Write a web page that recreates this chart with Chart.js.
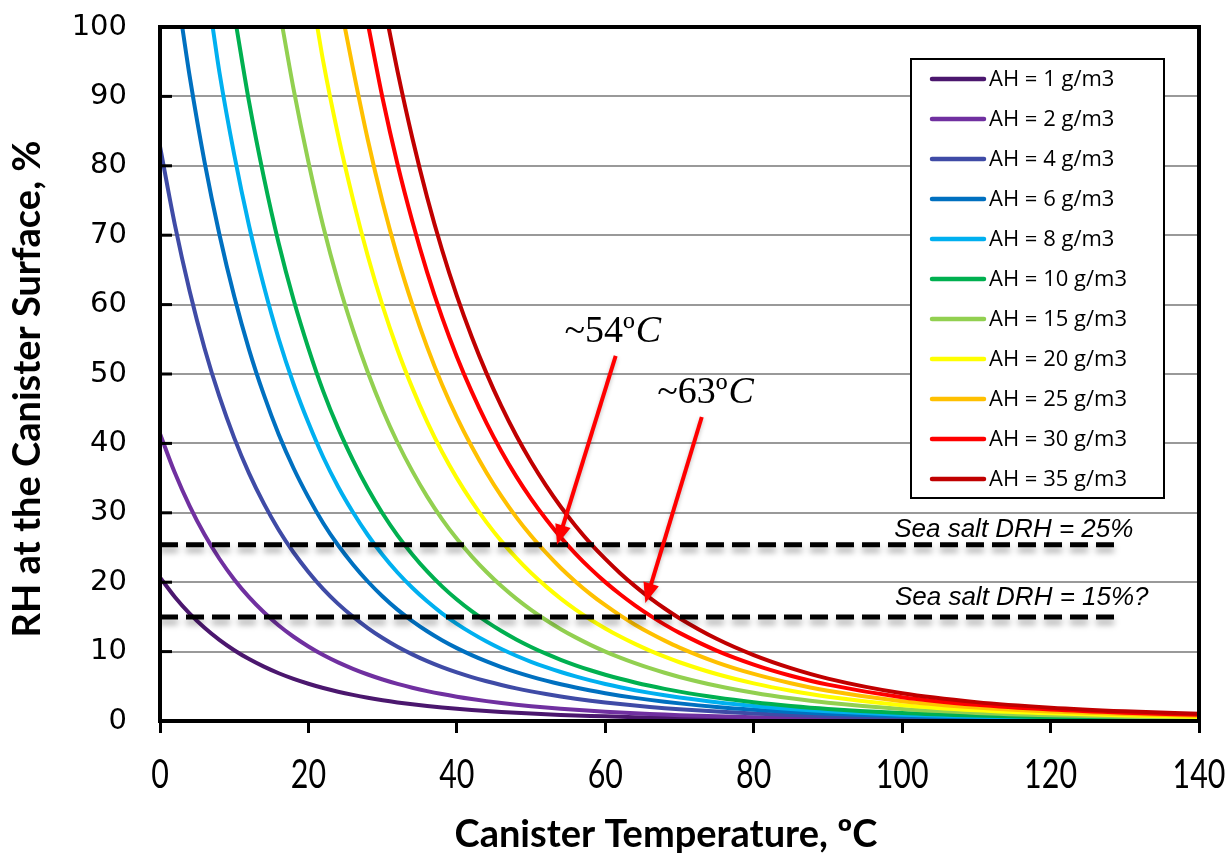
<!DOCTYPE html>
<html>
<head>
<meta charset="utf-8">
<script src="https://cdn.jsdelivr.net/npm/chart.js@4.4.1/dist/chart.umd.min.js"></script>
<style>
html,body{margin:0;padding:0;background:#fff;}
#c{display:block;}
</style>
</head>
<body>
<canvas id="c" width="1229" height="856" style="width:1229px;height:856px"></canvas>
<script>
// ---------- data ----------
const temps = [0,2,4,6,8,10,12,14,16,18,20,22,24,26,28,30,32,34,36,38,40,42,44,46,48,50,52,54,56,58,60,62,64,66,68,70,75,80,85,90,100,110,120,130,140];

const ah1  = [20.7,17.88,15.48,13.43,11.69,10.2,8.92,7.83,6.88,6.07,5.37,4.75,4.22,3.76,3.35,2.99,2.675,2.4,2.155,1.94,1.75,1.582,1.431,1.296,1.175,1.067,0.97,0.882,0.803,0.732,0.667,0.609,0.555,0.507,0.463,0.423,0.338,0.271,0.218,0.175,0.114,0.078,0.055,0.04,0.03];
const ah2  = [41.4,35.76,30.96,26.86,23.38,20.4,17.84,15.66,13.76,12.14,10.74,9.5,8.44,7.52,6.7,5.98,5.35,4.8,4.31,3.88,3.5,3.164,2.862,2.592,2.35,2.134,1.94,1.764,1.606,1.463,1.334,1.217,1.111,1.014,0.926,0.846,0.677,0.542,0.435,0.349,0.228,0.155,0.11,0.08,0.059];
const ah4  = [82.8,71.52,61.92,53.72,46.76,40.8,35.68,31.32,27.52,24.28,21.48,19.0,16.88,15.04,13.4,11.96,10.7,9.6,8.62,7.76,7.0,6.328,5.724,5.184,4.7,4.268,3.88,3.528,3.212,2.926,2.668,2.434,2.221,2.028,1.852,1.693,1.353,1.085,0.87,0.698,0.457,0.311,0.22,0.16,0.118];
const ah6  = [null,null,92.88,80.58,70.14,61.2,53.52,46.98,41.28,36.42,32.22,28.5,25.32,22.56,20.1,17.94,16.05,14.4,12.93,11.64,10.5,9.492,8.586,7.776,7.05,6.402,5.82,5.292,4.818,4.389,4.002,3.651,3.332,3.042,2.779,2.539,2.03,1.627,1.306,1.048,0.685,0.466,0.33,0.24,0.177];
const ah8  = [null,null,null,null,93.52,81.6,71.36,62.64,55.04,48.56,42.96,38.0,33.76,30.08,26.8,23.92,21.4,19.2,17.24,15.52,14.0,12.66,11.45,10.37,9.4,8.536,7.76,7.056,6.424,5.852,5.336,4.868,4.442,4.056,3.705,3.386,2.706,2.17,1.741,1.397,0.914,0.622,0.44,0.32,0.236];
const ah10 = [null,null,null,null,null,null,89.2,78.3,68.8,60.7,53.7,47.5,42.2,37.6,33.5,29.9,26.75,24.0,21.55,19.4,17.5,15.82,14.31,12.96,11.75,10.67,9.7,8.82,8.03,7.315,6.67,6.085,5.553,5.07,4.631,4.232,3.383,2.712,2.176,1.746,1.142,0.777,0.55,0.4,0.295];
const ah15 = [null,null,null,null,null,null,null,null,null,91.05,80.55,71.25,63.3,56.4,50.25,44.85,40.13,36.0,32.33,29.1,26.25,23.73,21.47,19.44,17.63,16.01,14.55,13.23,12.05,10.97,10.0,9.128,8.33,7.605,6.947,6.348,5.075,4.068,3.264,2.619,1.713,1.166,0.825,0.6,0.443];
const ah20 = [null,null,null,null,null,null,null,null,null,null,null,95.0,84.4,75.2,67.0,59.8,53.5,48.0,43.1,38.8,35.0,31.64,28.62,25.92,23.5,21.34,19.4,17.64,16.06,14.63,13.34,12.17,11.11,10.14,9.262,8.464,6.766,5.424,4.352,3.492,2.284,1.554,1.1,0.8,0.59];
const ah25 = [null,null,null,null,null,null,null,null,null,null,null,null,null,94.0,83.75,74.75,66.88,60.0,53.88,48.5,43.75,39.55,35.78,32.4,29.38,26.68,24.25,22.05,20.08,18.29,16.68,15.21,13.88,12.68,11.58,10.58,8.458,6.78,5.44,4.365,2.855,1.943,1.375,1.0,0.738];
const ah30 = [null,null,null,null,null,null,null,null,null,null,null,null,null,null,null,89.7,80.25,72.0,64.65,58.2,52.5,47.46,42.93,38.88,35.25,32.01,29.1,26.46,24.09,21.95,20.01,18.26,16.66,15.21,13.89,12.7,10.15,8.136,6.528,5.238,3.426,2.331,1.65,1.2,0.885];
const ah35 = [null,null,null,null,null,null,null,null,null,null,null,null,null,null,null,null,93.63,84.0,75.43,67.9,61.25,55.37,50.09,45.36,41.13,37.35,33.95,30.87,28.11,25.6,23.35,21.3,19.44,17.75,16.21,14.81,11.84,9.492,7.616,6.111,3.997,2.72,1.925,1.4,1.033];

// temperature at which each curve leaves the top of the plot (RH = 100 %)
const startTemps = [null,null,null,3.0,7.1,10.3,16.5,21.2,24.9,28.1,30.8];
const startRH = 100;

const seriesLabels = ['AH = 1 g/m3','AH = 2 g/m3','AH = 4 g/m3','AH = 6 g/m3','AH = 8 g/m3','AH = 10 g/m3','AH = 15 g/m3','AH = 20 g/m3','AH = 25 g/m3','AH = 30 g/m3','AH = 35 g/m3'];

// dashed DRH reference lines
const drhLevels = [25.4, 15.0];
const drhFrom = 0;
const drhTo = 128.9;
const drhLabels = ['Sea salt DRH = 25%', 'Sea salt DRH = 15%?'];

// arrow annotations (data coordinates)
const noteTexts = ['~54º', '~63º'];
const noteUnit = 'C';
const noteTextX = [54.5, 67.0];
const noteTextY = [54.6, 45.8];
const arrowFromX = [61.4, 73.0];
const arrowFromY = [52.6, 43.8];
const arrowToX = [53.5, 65.4];
const arrowToY = [25.4, 17.0];

const xTitle = 'Canister Temperature, ºC';
const yTitle = 'RH at the Canister Surface, %';

// ---------- styles ----------
const seriesColors = ['#4B176E','#7030A0','#3F4BA6','#0070C0','#00B0F0','#00B050','#92D050','#FFFF00','#FFC000','#FF0000','#C00000'];
const allSeries = [ah1, ah2, ah4, ah6, ah8, ah10, ah15, ah20, ah25, ah30, ah35];

const datasets = allSeries.map((vals, i) => {
  const pts = [];
  if (startTemps[i] !== null) pts.push({x: startTemps[i], y: startRH});
  temps.forEach((t, k) => { if (vals[k] !== null) pts.push({x: t, y: vals[k]}); });
  return {
    label: seriesLabels[i], data: pts, borderColor: seriesColors[i], backgroundColor: seriesColors[i],
    borderWidth: 4, pointRadius: 0, cubicInterpolationMode: 'monotone', fill: false,
    order: allSeries.length - i + 1, clip: 2
  };
});
drhLevels.forEach((lv, j) => {
  datasets.push({
    label: drhLabels[j], data: [{x: drhFrom, y: lv}, {x: drhTo, y: lv}],
    borderColor: '#000', borderWidth: 5, borderDash: [18, 8], borderCapStyle: 'butt',
    pointRadius: 0, fill: false, order: 0, isDrh: true
  });
});

const extras = {
  id: 'extras',
  beforeDatasetDraw(chart, args) {
    const ds = chart.data.datasets[args.index];
    if (ds.isDrh) {
      const ctx = chart.ctx;
      ctx.save();
      ctx.shadowColor = 'rgba(0,0,0,0.35)';
      ctx.shadowBlur = 6;
      ctx.shadowOffsetY = 5;
    }
  },
  afterDatasetDraw(chart, args) {
    const ds = chart.data.datasets[args.index];
    if (ds.isDrh) chart.ctx.restore();
  },
  afterDatasetsDraw(chart) {
    const {ctx, scales: {x, y}} = chart;
    ctx.save();
    // DRH labels
    ctx.fillStyle = '#000';
    ctx.font = 'italic 26px "Liberation Sans", Arial, sans-serif';
    ctx.textAlign = 'right';
    ctx.textBaseline = 'alphabetic';
    const labelRight = [131.15, 133.2];
    const labelLift = [8, 12];
    drhLabels.forEach((t, j) => {
      ctx.fillText(t, x.getPixelForValue(labelRight[j]), y.getPixelForValue(drhLevels[j]) - labelLift[j]);
    });
    // arrows
    ctx.strokeStyle = '#FF0000';
    ctx.fillStyle = '#FF0000';
    ctx.lineWidth = 4;
    ctx.shadowColor = 'rgba(0,0,0,0.25)';
    ctx.shadowBlur = 4;
    ctx.shadowOffsetY = 2;
    for (let i = 0; i < arrowFromX.length; i++) {
      const x0 = x.getPixelForValue(arrowFromX[i]), y0 = y.getPixelForValue(arrowFromY[i]);
      const x1 = x.getPixelForValue(arrowToX[i]), y1 = y.getPixelForValue(arrowToY[i]);
      const ang = Math.atan2(y1 - y0, x1 - x0);
      const hl = 20, hw = 8;
      const bx = x1 - hl * Math.cos(ang), by = y1 - hl * Math.sin(ang);
      ctx.beginPath(); ctx.moveTo(x0, y0); ctx.lineTo(bx + 2 * Math.cos(ang), by + 2 * Math.sin(ang)); ctx.stroke();
      ctx.beginPath();
      ctx.moveTo(x1, y1);
      ctx.lineTo(bx + hw * Math.sin(ang), by - hw * Math.cos(ang));
      ctx.lineTo(bx - hw * Math.sin(ang), by + hw * Math.cos(ang));
      ctx.closePath(); ctx.fill();
    }
    ctx.shadowColor = 'rgba(0,0,0,0)';
    // annotation texts
    ctx.fillStyle = '#000';
    ctx.textAlign = 'left';
    for (let i = 0; i < noteTexts.length; i++) {
      const px = x.getPixelForValue(noteTextX[i]), py = y.getPixelForValue(noteTextY[i]);
      ctx.font = '38px "Liberation Serif", "DejaVu Serif", serif';
      ctx.fillText(noteTexts[i], px, py);
      const w = ctx.measureText(noteTexts[i]).width;
      ctx.font = 'italic 38px "Liberation Serif", "DejaVu Serif", serif';
      ctx.fillText(noteUnit, px + w + 1, py);
    }
    // legend box
    const lx = 911, ly = 59, lw = 253, lh = 439;
    ctx.fillStyle = '#fff';
    ctx.fillRect(lx, ly, lw, lh);
    ctx.strokeStyle = '#000';
    ctx.lineWidth = 2;
    ctx.strokeRect(lx, ly, lw, lh);
    ctx.font = '22px "Open Sans", sans-serif';
    ctx.textBaseline = 'middle';
    seriesLabels.forEach((t, i) => {
      const ry = 79 + 40 * i;
      ctx.strokeStyle = seriesColors[i];
      ctx.lineWidth = 4.5;
      ctx.lineCap = 'round';
      ctx.beginPath(); ctx.moveTo(932, ry); ctx.lineTo(984, ry); ctx.stroke();
      ctx.fillStyle = '#000';
      ctx.fillText(t, 989, ry + 1);
    });
    ctx.restore();
  },
  afterDraw(chart) {
    const {ctx, chartArea: a, scales: {x, y}} = chart;
    ctx.save();
    ctx.strokeStyle = '#000';
    // inner y tick marks
    ctx.lineWidth = 3;
    y.ticks.forEach(t => {
      const py = y.getPixelForValue(t.value);
      ctx.beginPath(); ctx.moveTo(a.left, py); ctx.lineTo(a.left + 12, py); ctx.stroke();
    });
    // frame
    ctx.lineWidth = 4;
    ctx.strokeRect(a.left, a.top, a.right - a.left, a.bottom - a.top);
    // x tick labels (condensed, as in the reference)
    ctx.fillStyle = '#000';
    ctx.textAlign = 'center';
    ctx.textBaseline = 'alphabetic';
    ctx.font = '40px Lato, sans-serif';
    x.ticks.forEach(t => {
      const px = x.getPixelForValue(t.value);
      ctx.save();
      ctx.translate(px, a.bottom + 67);
      ctx.scale(0.76, 1);
      ctx.fillText(String(t.value), 0, 0);
      ctx.restore();
    });
    // axis titles
    ctx.font = 'bold 38px Lato, sans-serif';
    ctx.fillText(xTitle, 666, 847);
    ctx.save();
    ctx.translate(40, 389);
    ctx.rotate(-Math.PI / 2);
    ctx.fillText(yTitle, 0, 0);
    ctx.restore();
    ctx.restore();
  }
};

new Chart(document.getElementById('c'), {
  type: 'line',
  data: { datasets },
  plugins: [extras],
  options: {
    responsive: false,
    animation: false,
    devicePixelRatio: 1,
    layout: { padding: { top: 27, right: 30, left: 0, bottom: 0 } },
    plugins: { legend: { display: false }, tooltip: { enabled: false } },
    scales: {
      x: {
        type: 'linear', min: 0, max: 140,
        afterFit: s => { s.height = 135; s.paddingLeft = 0; s.paddingRight = 0; },
        ticks: { stepSize: 20, display: false, maxRotation: 0, autoSkip: false },
        grid: { drawOnChartArea: false, drawTicks: true, tickLength: 12, tickWidth: 3, tickColor: '#000' },
        border: { display: true, color: '#000', width: 4 },
        title: { display: false, text: xTitle }
      },
      y: {
        min: 0, max: 100,
        afterFit: s => { s.width = 160; s.paddingTop = 0; s.paddingBottom = 0; },
        ticks: { stepSize: 10, color: '#000', padding: 33, font: { family: 'DejaVu Sans', size: 29 } },
        grid: { color: '#999999', lineWidth: 2, drawTicks: false },
        border: { display: true, color: '#000', width: 4 },
        title: { display: false, text: yTitle }
      }
    }
  }
});
</script>
</body>
</html>
